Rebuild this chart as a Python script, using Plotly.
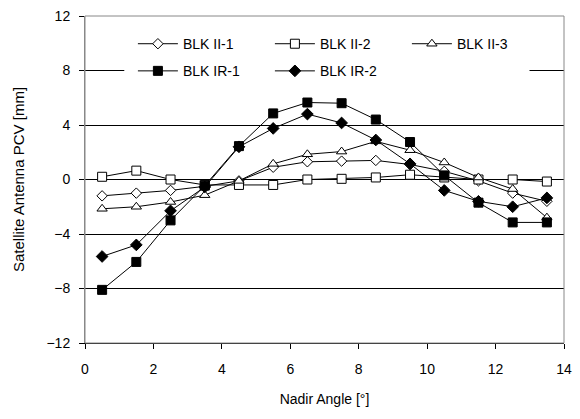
import plotly.graph_objects as go

nadir = [0.5, 1.5, 2.5, 3.5, 4.5, 5.5, 6.5, 7.5, 8.5, 9.5, 10.5, 11.5, 12.5, 13.5]

blk_ii_1 = [-1.2, -1.0, -0.8, -0.5, -0.1, 0.9, 1.3, 1.35, 1.4, 1.1, 0.6, -0.1, -1.0, -1.6]
blk_ii_2 = [0.2, 0.65, 0.0, -0.4, -0.4, -0.4, 0.0, 0.05, 0.15, 0.35, 0.15, 0.0, 0.0, -0.15]
blk_ii_3 = [-2.15, -2.0, -1.65, -1.15, -0.1, 1.15, 1.85, 2.05, 2.8, 2.15, 1.25, 0.15, -0.7, -2.8]
blk_ir_1 = [-8.1, -6.05, -3.0, -0.45, 2.45, 4.85, 5.65, 5.6, 4.4, 2.75, 0.3, -1.7, -3.15, -3.15]
blk_ir_2 = [-5.65, -4.8, -2.3, -0.55, 2.4, 3.75, 4.8, 4.15, 2.9, 1.15, -0.8, -1.6, -2.0, -1.35]

series = [
    ("BLK II-1", blk_ii_1, "diamond", "white", 8, "legend"),
    ("BLK II-2", blk_ii_2, "square", "white", 9, "legend"),
    ("BLK II-3", blk_ii_3, "triangle-up", "white", 9, "legend"),
    ("BLK IR-1", blk_ir_1, "square", "black", 9, "legend2"),
    ("BLK IR-2", blk_ir_2, "diamond", "black", 9, "legend2"),
]

font = "Liberation Sans, Arial, sans-serif"

fig = go.Figure()
for name, vals, sym, fill, size, leg in series:
    fig.add_trace(go.Scatter(
        x=nadir, y=vals, name=name, mode="lines+markers", legend=leg,
        line=dict(color="black", width=1),
        marker=dict(symbol=sym, size=size, color=fill, line=dict(color="black", width=1)),
    ))

leg_common = dict(orientation="h", xanchor="left", yanchor="middle",
                  bgcolor="rgba(0,0,0,0)", entrywidth=82, entrywidthmode="pixels",
                  font=dict(family=font, size=14, color="black"),
                  itemwidth=40, borderwidth=0)

fig.update_layout(
    width=580, height=419,
    margin=dict(l=85, r=8, t=16, b=76),
    paper_bgcolor="white", plot_bgcolor="white",
    font=dict(family=font, size=14, color="black"),
    showlegend=True,
    legend=dict(x=0.10, y=0.914, **leg_common),
    legend2=dict(x=0.10, y=0.831, **leg_common),
    xaxis=dict(range=[0, 14], dtick=2, tick0=0, showgrid=False, zeroline=False,
               showline=True, linecolor="black", linewidth=1,
               ticks="outside", ticklen=5, tickcolor="black", ticklabelstandoff=8,
               tickfont=dict(family=font, size=14, color="black"),
               title=dict(text="Nadir Angle [°]", standoff=18,
                          font=dict(family=font, size=14, color="black"))),
    yaxis=dict(range=[-12, 12], dtick=4, tick0=0, showgrid=True, gridcolor="black",
               gridwidth=1, zeroline=True, zerolinecolor="black", zerolinewidth=1,
               showline=True, linecolor="#888888", linewidth=1,
               ticks="outside", ticklen=5, tickcolor="black", ticklabelstandoff=6,
               tickfont=dict(family=font, size=14, color="black"),
               title=dict(text="Satellite Antenna PCV [mm]", standoff=18,
                          font=dict(family=font, size=15, color="black"))),
    shapes=[
        dict(type="rect", xref="paper", yref="paper", x0=0.082, x1=0.928, y0=0.80, y1=0.87,
             fillcolor="white", line=dict(width=0), layer="above"),
        dict(type="rect", xref="paper", yref="paper", x0=0, y0=0, x1=1, y1=1,
             line=dict(color="#888888", width=1), layer="above"),
    ],
)

fig.write_html("out.html")
